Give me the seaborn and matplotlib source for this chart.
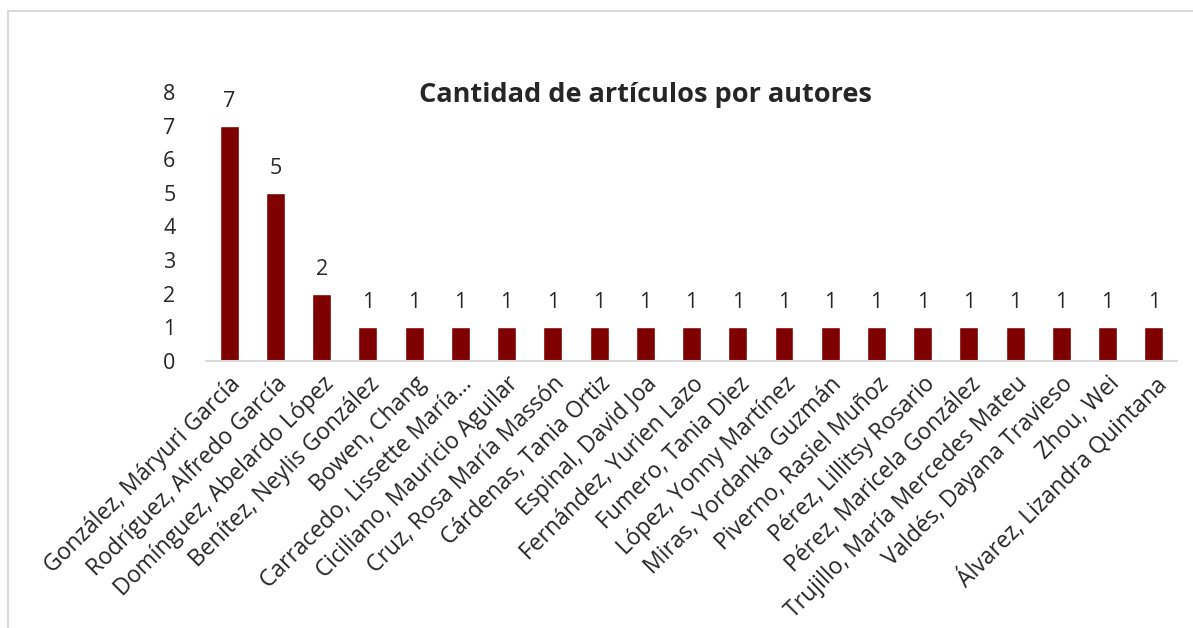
import matplotlib
matplotlib.use('Agg')
import matplotlib.pyplot as plt
import seaborn as sns
import pandas as pd

# datos del gráfico
autores = [
    'González, Máryuri García',
    'Rodríguez, Alfredo García',
    'Domínguez, Abelardo López',
    'Benítez, Neylis González',
    'Bowen, Chang',
    'Carracedo, Lissette María…',
    'Ciciliano, Mauricio Aguilar',
    'Cruz, Rosa María Massón',
    'Cárdenas, Tania Ortiz',
    'Espinal, David Joa',
    'Fernández, Yurien Lazo',
    'Fumero, Tania Diez',
    'López, Yonny Martínez',
    'Miras, Yordanka Guzmán',
    'Piverno, Rasiel Muñoz',
    'Pérez, Lillitsy Rosario',
    'Pérez, Maricela González',
    'Trujillo, María Mercedes Mateu',
    'Valdés, Dayana Travieso',
    'Zhou, Wei',
    'Álvarez, Lizandra Quintana',
]
articulos = [7, 5, 2, 1, 1, 1, 1, 1, 1, 1, 1, 1, 1, 1, 1, 1, 1, 1, 1, 1, 1]
y_ticks = [0, 1, 2, 3, 4, 5, 6, 7, 8]

df = pd.DataFrame({'autor': autores, 'n': articulos})

sns.set_style('white')
plt.rcParams['font.family'] = ['Open Sans', 'DejaVu Sans']

fig = plt.figure(figsize=(11.93, 6.28), dpi=100)
ax = fig.add_axes([0.1727, 0.4252, 0.8139, 0.4283])

sns.barplot(data=df, x='autor', y='n', color='#7F0000', saturation=1,
            width=0.41, ax=ax)

ax.set_ylim(0, 8)
ax.set_yticks(y_ticks)
ax.set_xlim(-0.5, len(autores) - 0.5)
ax.set_xlabel('')
ax.set_ylabel('')

for s in ['top', 'right', 'left']:
    ax.spines[s].set_visible(False)
ax.spines['bottom'].set_color('#D9D9D9')
ax.spines['bottom'].set_linewidth(1.5)
ax.tick_params(axis='both', length=0)
ax.tick_params(axis='y', labelsize=15.5, pad=22)
ax.set_xticks(range(len(autores)))
ax.set_xticklabels(autores, rotation=45, ha='right', rotation_mode='anchor',
                   fontsize=16.5)
ax.tick_params(axis='x', pad=8)

ax.bar_label(ax.containers[0], fontsize=15.5, padding=10)

fig.text(0.541, 0.849, 'Cantidad de artículos por autores', ha='center',
         va='center', fontsize=19.5, fontweight='bold')

# marco del gráfico (solo se ven borde superior e izquierdo)
fig.add_artist(plt.Line2D([8 / 1193, 8 / 1193], [0, 1 - 11 / 628],
                          color='#D9D9D9', lw=1.5))
fig.add_artist(plt.Line2D([8 / 1193, 1], [1 - 11 / 628, 1 - 11 / 628],
                          color='#D9D9D9', lw=1.5))

fig.savefig('out.png', dpi=100)
